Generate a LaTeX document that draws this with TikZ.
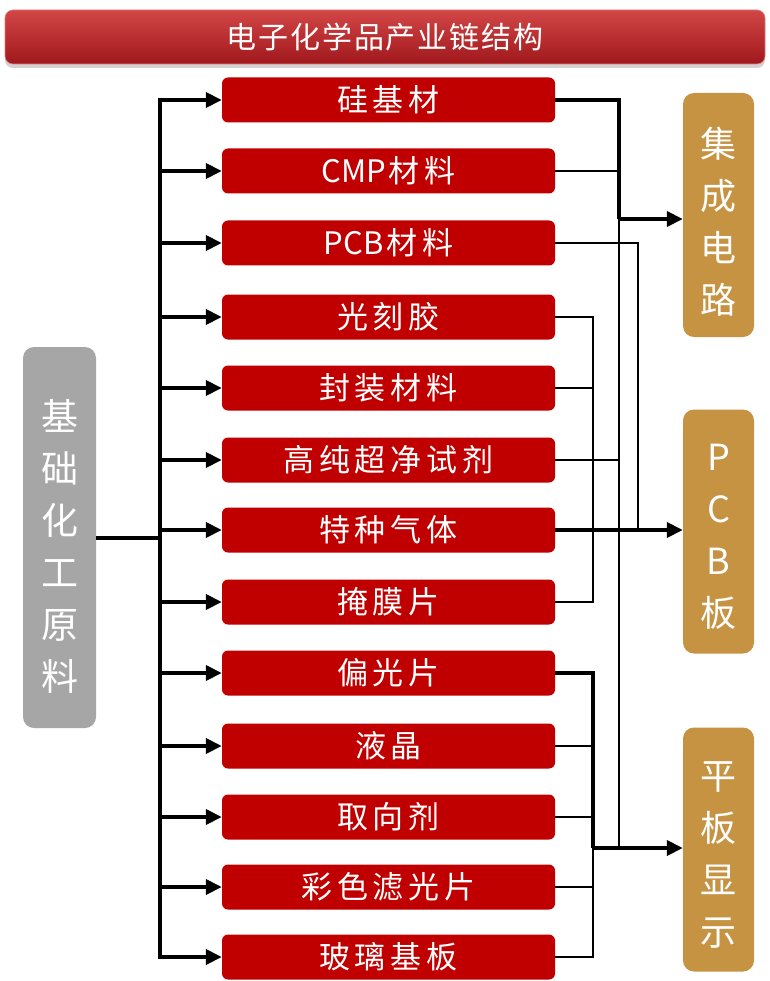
\documentclass[tikz,border=0pt]{standalone}
\usepackage{fontspec}
\setmainfont{Noto Sans CJK SC}
\newfontfamily\boxfont[LetterSpace=16]{Noto Sans CJK SC}
\newfontfamily\latinfont{Noto Sans CJK SC}
\newfontfamily\titlefont[LetterSpace=6]{Noto Sans CJK SC}
\usetikzlibrary{arrows.meta,shadows}
\definecolor{boxred}{HTML}{C00000}
\definecolor{goldbox}{HTML}{C69343}
\definecolor{graybox}{HTML}{A6A6A6}
\definecolor{titletop}{HTML}{D24646}
\definecolor{titlebot}{HTML}{A0181C}
\newcommand{\lat}[1]{{\latinfont #1}\hspace{3pt}}
\begin{document}
\begin{tikzpicture}[x=1pt,y=-1pt,
  redbox/.style={fill=boxred, rounded corners=6pt, minimum width=333pt, minimum height=45pt,
    inner sep=0pt, text=white, font=\boxfont\fontsize{31}{32}\selectfont},
  sidebox/.style={fill=goldbox, rounded corners=11pt, minimum width=71pt, minimum height=244pt, inner sep=0pt},
  sidetext/.style={text=white, align=center, inner sep=0pt, font=\fontsize{36}{52}\selectfont},
  thickline/.style={line width=3.8pt, line join=miter},
  thinline/.style={line width=1.7pt, line join=miter},
  arr/.style={-{Triangle[length=16pt,width=15pt]}},
  barr/.style={{Triangle[length=16pt,width=15pt]}-{Triangle[length=16pt,width=15pt]}}
]
\useasboundingbox (0,0) rectangle (769,981);
\fill[white] (0,0) rectangle (769,981);

% title
\node[rounded corners=8pt, top color=titletop, bottom color=titlebot, draw=titletop!70!white, line width=0.6pt,
  minimum width=760pt, minimum height=54pt, inner sep=0pt,
  drop shadow={opacity=0.35, shadow xshift=0pt, shadow yshift=-4pt},
  text=white, font=\titlefont\fontsize{30}{32}\selectfont] (title) at (385,37) {电子化学品产业链结构};

% red boxes
\node[redbox] (r1) at (388.5,100) {硅基材};
\node[redbox] (r2) at (388.5,171) {\lat{CMP}材料};
\node[redbox] (r3) at (388.5,243) {\lat{PCB}材料};
\node[redbox] (r4) at (388.5,317) {光刻胶};
\node[redbox] (r5) at (388.5,388) {封装材料};
\node[redbox] (r6) at (388.5,460) {高纯超净试剂};
\node[redbox] (r7) at (388.5,530) {特种气体};
\node[redbox] (r8) at (388.5,602) {掩膜片};
\node[redbox] (r9) at (388.5,673) {偏光片};
\node[redbox] (r10) at (388.5,746) {液晶};
\node[redbox] (r11) at (388.5,817) {取向剂};
\node[redbox] (r12) at (388.5,887) {彩色滤光片};
\node[redbox] (r13) at (388.5,957) {玻璃基板};

% left gray box
\node[fill=graybox, rounded corners=11pt, minimum width=73pt, minimum height=381pt, inner sep=0pt] (base) at (59.5,537.5) {};
\node[sidetext, font=\fontsize{37}{52}\selectfont] (basetext) at (59.5,546) {基\\础\\化\\工\\原\\料};

% right boxes
\node[sidebox] (ic) at (718.5,215) {};
\node[sidetext] (ictext) at (718.5,222) {集\\成\\电\\路};
\node[sidebox] (pcb) at (718.5,531.5) {};
\node[sidetext] (pcbtext) at (718.5,537) {P\\C\\B\\板};
\node[sidebox] (fpd) at (718.5,849.5) {};
\node[sidetext] (fpdtext) at (718.5,855) {平\\板\\显\\示};

% left trunk
\coordinate (ltop) at (160,100);
\coordinate (lbot) at (160,957);
\coordinate (hub) at (160,538);
\draw[thickline] (base.east |- hub) -- (hub);
\draw[thickline,barr] (r1.west) -- (ltop) -- (lbot) -- (r13.west);
\foreach \i in {2,...,12} {
  \draw[thickline,arr] (r\i.west -| hub) -- (r\i.west);
}

% right: integrated circuits
\coordinate (icx) at (619,100);
\coordinate (icj) at (619,219);
\coordinate (icb) at (619,848);
\draw[thinline] (icj) -- (icb);
\draw[thickline] (r1.east) -- (icx) -- (icj);
\draw[thickline,arr] (icj) -- (ic.west |- icj);
\draw[thinline] (r2.east) -- (r2.east -| icx);
\draw[thinline] (r6.east) -- (r6.east -| icx);

% right: PCB
\coordinate (pcbx) at (638,243);
\draw[thinline] (r3.east) -- (pcbx) -- (pcbx |- r7.east);
\coordinate (mx) at (593,317);
\draw[thinline] (r4.east) -- (mx) -- (mx |- r8.east) -- (r8.east);
\draw[thinline] (r5.east) -- (r5.east -| mx);
\draw[thickline,arr] (r7.east) -- (r7.east -| pcb.west);

% right: flat panel display
\coordinate (fx) at (593,673);
\coordinate (fj) at (593,848);
\draw[thinline] (r13.east) -- (r13.east -| fx) -- (fj);
\draw[thinline] (r10.east) -- (r10.east -| fx);
\draw[thinline] (r11.east) -- (r11.east -| fx);
\draw[thinline] (r12.east) -- (r12.east -| fx);
\draw[thickline] (r9.east) -- (fx) -- (fj);
\draw[thickline,arr] (fj) -- (fj -| fpd.west);
\end{tikzpicture}
\end{document}
